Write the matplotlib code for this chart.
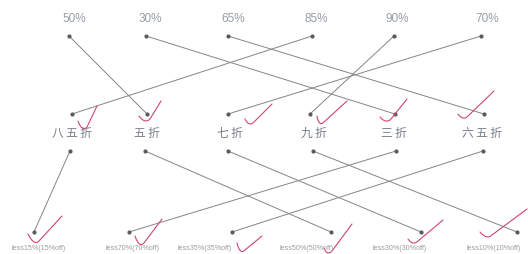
import matplotlib
matplotlib.use('Agg')
import matplotlib.pyplot as plt
import numpy as np

# data: labels and which item each one is matched to
top_labels = ['50%', '30%', '65%', '85%', '90%', '70%']
mid_labels = ['八五折', '五折', '七折', '九折', '三折', '六五折']
bot_labels = ['less15%(15%off)', 'less70%(70%off)', 'less35%(35%off)',
              'less50%(50%off)', 'less30%(30%off)', 'less10%(10%off)']
top_to_mid = [1, 4, 5, 0, 3, 2]   # index into mid_labels
mid_to_bot = [0, 3, 4, 5, 1, 2]   # index into bot_labels

# layout (pixel coords of the 528x255 picture)
top_x = [69, 146, 228, 312, 394, 481]
top_lab_x = [74, 150, 233, 316, 397, 487]
mid_x_up = [72, 147, 228, 310, 395, 484]
mid_x_dn = [70, 145, 228, 313, 396, 483]
mid_lab_x = [72, 147, 230, 314, 394, 482]
bot_x = [34, 129, 232, 331, 421, 517]
bot_lab_x = [39, 133, 205, 307, 400, 494]
y_top_lab, y_top, y_mid_up, y_mid_lab, y_mid_dn, y_bot, y_bot_lab = 19, 37, 115, 133, 152, 233, 249

# red ticks: (left, bottom, top)
checks = [((78, 122), (83, 129), (97, 107)), ((139, 117), (146, 121), (161, 102)),
          ((245, 120), (250, 124), (272, 105)), ((317, 117), (320, 124), (347, 102)),
          ((380, 118), (387, 121), (407, 100)), ((458, 115), (464, 118), (494, 92)),
          ((28, 235), (35, 243), (62, 217)), ((135, 237), (140, 245), (162, 220)),
          ((237, 244), (241, 252), (262, 237)), ((324, 249), (328, 253), (352, 225)),
          ((408, 240), (414, 243), (443, 221)), ((480, 233), (488, 237), (527, 210))]

fig = plt.figure(figsize=(5.28, 2.55), dpi=100)
ax = fig.add_axes([0, 0, 1, 1])
ax.set_xlim(0, 528)
ax.set_ylim(255, 0)
ax.axis('off')

gray = '#979ea5'
for i, lab in enumerate(top_labels):
    ax.text(top_lab_x[i], y_top_lab, lab, ha='center', va='center', fontsize=8.5,
            color=gray, family=['Liberation Sans', 'DejaVu Sans'])
for i, lab in enumerate(mid_labels):
    # characters spaced out a little, like the original
    s = '\u2009'.join(lab)
    ax.text(mid_lab_x[i], y_mid_lab, s, ha='center', va='center', fontsize=8.5,
            color='#767e86', family=['Noto Sans CJK SC', 'DejaVu Sans'])
for i, lab in enumerate(bot_labels):
    ax.text(bot_lab_x[i], y_bot_lab, lab, ha='center', va='center', fontsize=5.1,
            color=gray, family=['Liberation Sans', 'DejaVu Sans'])

line_c = '#858585'
for i, j in enumerate(top_to_mid):
    ax.plot([top_x[i], mid_x_up[j]], [y_top, y_mid_up], color=line_c, lw=0.7)
for i, j in enumerate(mid_to_bot):
    ax.plot([mid_x_dn[i], bot_x[j]], [y_mid_dn, y_bot], color=line_c, lw=0.7)

for xs, yv in [(top_x, y_top), (mid_x_up, y_mid_up), (mid_x_dn, y_mid_dn), (bot_x, y_bot)]:
    ax.plot(xs, [yv] * len(xs), 'o', ms=2, color='#5a5a5a')

t = np.linspace(0, 1, 30)
for (l, b, tp) in checks:
    # down stroke then long up stroke, rounded at the bottom
    c = (b[0] - 1, b[1] + 4)
    x1 = (1 - t) ** 2 * l[0] + 2 * t * (1 - t) * c[0] + t ** 2 * (b[0] + 4)
    y1 = (1 - t) ** 2 * l[1] + 2 * t * (1 - t) * c[1] + t ** 2 * (b[1] - 1)
    x = np.concatenate([x1, [tp[0]]])
    y = np.concatenate([y1, [tp[1]]])
    ax.plot(x, y, color='#d0456d', lw=0.8, solid_capstyle='round')

fig.savefig('out.png', dpi=100)
